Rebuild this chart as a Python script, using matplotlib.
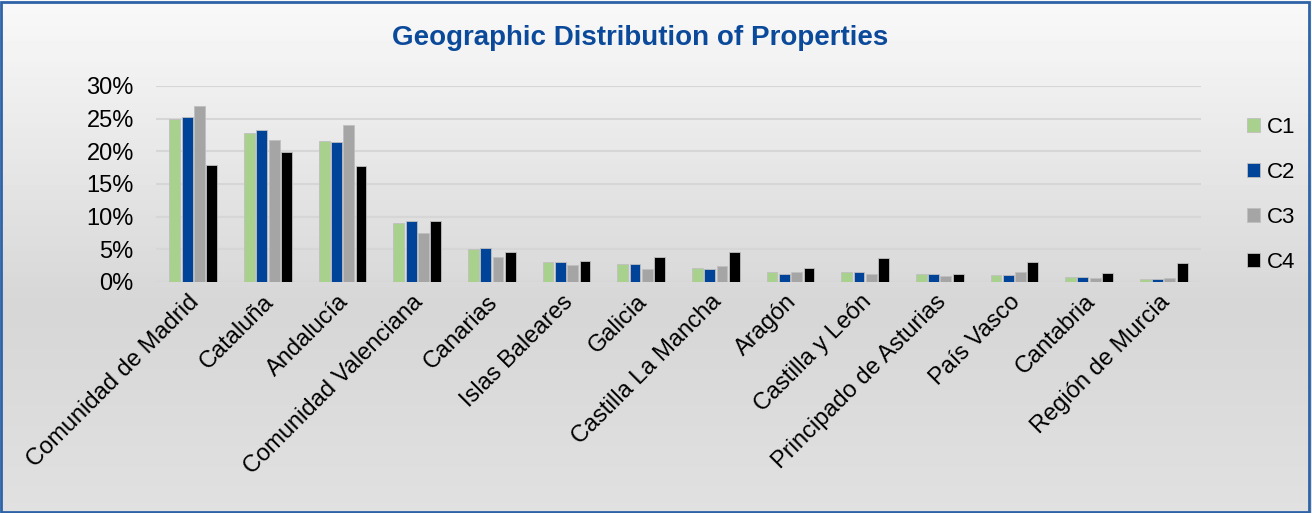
import matplotlib

matplotlib.use("Agg")
import matplotlib.pyplot as plt
import numpy as np
from matplotlib.patches import Rectangle
from matplotlib.transforms import ScaledTranslation

# values (percent)
regions = [
    "Comunidad de Madrid", "Cataluña", "Andalucía", "Comunidad Valenciana",
    "Canarias", "Islas Baleares", "Galicia", "Castilla La Mancha", "Aragón",
    "Castilla y León", "Principado de Asturias", "País Vasco", "Cantabria",
    "Región de Murcia",
]
c1 = [24.9, 22.8, 21.6, 9.1, 5.1, 3.1, 2.8, 2.1, 1.5, 1.5, 1.2, 1.0, 0.8, 0.5]
c2 = [25.2, 23.2, 21.5, 9.3, 5.2, 3.0, 2.8, 2.0, 1.3, 1.5, 1.2, 1.0, 0.8, 0.5]
c3 = [26.9, 21.7, 24.1, 7.5, 3.8, 2.6, 2.0, 2.4, 1.5, 1.2, 0.9, 1.6, 0.6, 0.6]
c4 = [17.9, 19.9, 17.7, 9.3, 4.6, 3.2, 3.9, 4.6, 2.1, 3.6, 1.2, 3.1, 1.4, 2.9]
series_names = ["C1", "C2", "C3", "C4"]
series_colors = ["#A9D18E", "#00449A", "#A5A5A5", "#000000"]
y_ticks = [0, 5, 10, 15, 20, 25, 30]

plt.rcParams["font.family"] = ["Liberation Sans", "DejaVu Sans"]
FS = 17

fig = plt.figure(figsize=(13.12, 5.13), dpi=100)

# gradient background like the Excel chart area
bg = fig.add_axes([0, 0, 1, 1], zorder=-10)
grad = np.concatenate([np.linspace(0.975, 0.84, 60), np.linspace(0.84, 0.88, 40)])[:, None]
bg.imshow(grad, aspect="auto", cmap="gray", vmin=0, vmax=1, extent=[0, 1, 0, 1], origin="upper")
bg.set_xlim(0, 1)
bg.set_ylim(0, 1)
bg.axis("off")
bg.add_patch(Rectangle((0.001, 0.002), 0.997, 0.995, fill=False, edgecolor="#2E63A8", linewidth=2.0))

ax = fig.add_axes([0.1189, 0.4503, 0.7965, 0.3821])
ax.patch.set_alpha(0)

x = np.arange(len(regions))
width = 0.145
step = 0.165
for i, (vals, name, col) in enumerate(zip([c1, c2, c3, c4], series_names, series_colors)):
    ax.bar(x + (i - 1.5) * step, vals, width, color=col, label=name,
           edgecolor="#BFBFBF", linewidth=0.6, zorder=3)

ax.set_xlim(-0.5, len(regions) - 0.5)
ax.set_ylim(0, 30)
ax.set_yticks(y_ticks)
ax.set_yticklabels([f"{t}%" for t in y_ticks], fontsize=FS)
ax.yaxis.grid(True, color="#D6D6D6", linewidth=1.5, zorder=0)
ax.set_axisbelow(True)
for s in ax.spines.values():
    s.set_visible(False)
ax.tick_params(axis="both", length=0)
ax.tick_params(axis="y", pad=16)

ax.set_xticks(x)
ax.set_xticklabels(regions, rotation=45, ha="right", rotation_mode="anchor", fontsize=FS)
shift = ScaledTranslation(-0.05, -0.04, fig.dpi_scale_trans)
for lbl in ax.get_xticklabels():
    lbl.set_transform(lbl.get_transform() + shift)

fig.text(0.488, 0.925, "Geographic Distribution of Properties", ha="center", va="center",
         fontsize=20, fontweight="bold", color="#0B4A9A")

fig.legend(loc="center left", bbox_to_anchor=(0.935, 0.62), frameon=False,
           fontsize=16, handlelength=0.6, handleheight=0.6, handletextpad=0.3,
           labelspacing=1.08)

fig.savefig("out.png", dpi=100)
